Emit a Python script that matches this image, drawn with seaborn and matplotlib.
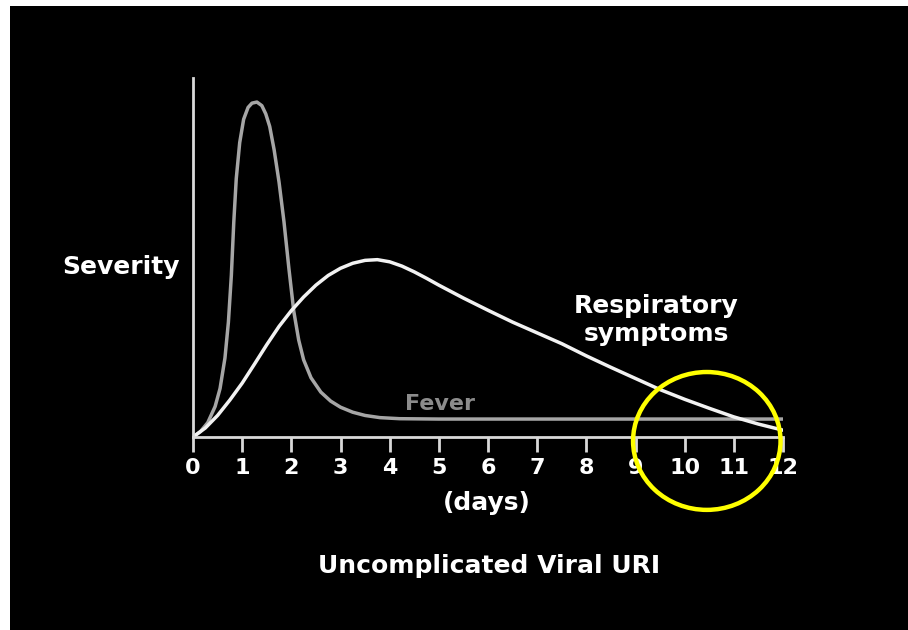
import numpy as np
import pandas as pd
import matplotlib
matplotlib.use("Agg")
import matplotlib.pyplot as plt
from matplotlib.patches import Rectangle, Ellipse
import seaborn as sns

# values (severity on a 0-100 scale)
fever_days = [0, 0.15, 0.3, 0.45, 0.55, 0.65, 0.72, 0.78, 0.83, 0.88, 0.95, 1.03, 1.12,
              1.2, 1.3, 1.4, 1.48, 1.56, 1.65, 1.75, 1.85, 1.95, 2.05, 2.15, 2.25, 2.4,
              2.6, 2.8, 3.0, 3.25, 3.5, 3.8, 4.2, 5.0, 12]
fever_sev = [0, 1.5, 4, 8.5, 13.5, 22, 32, 45, 60, 72, 82, 88.5, 91.8,
             93, 93.3, 92.3, 90, 86.5, 80, 71, 60, 47, 35, 27, 21.5, 16.5,
             12.5, 10, 8.3, 6.9, 6, 5.4, 5.1, 5.0, 5.0]

resp_days = [0, 0.25, 0.5, 0.75, 1.0, 1.25, 1.5, 1.75, 2.0, 2.25, 2.5, 2.75, 3.0,
             3.25, 3.5, 3.75, 4.0, 4.25, 4.5, 4.75, 5.0, 5.5, 6.0, 6.5, 7.0, 7.5,
             8.0, 8.5, 9.0, 9.5, 10.0, 10.5, 11.0, 11.5, 12]
resp_sev = [0, 2.5, 6, 10.3, 15, 20.3, 25.7, 30.8, 35.2, 39, 42.3, 45, 47,
            48.4, 49.2, 49.4, 48.8, 47.6, 46, 44.2, 42.3, 38.7, 35.3, 32, 29, 26,
            22.6, 19.4, 16.3, 13.2, 10.5, 8, 5.6, 3.6, 1.9]

day_ticks = list(range(0, 13))

sns.set_style("dark")
plt.rcParams['font.family'] = ['DejaVu Sans']
plt.rcParams['font.weight'] = 'bold'

fig = plt.figure(figsize=(9.08, 6.3), dpi=100, facecolor="white")
fig.patches.append(Rectangle((10 / 908, 0), 1, 1 - 6 / 630, transform=fig.transFigure,
                             facecolor="black", edgecolor="none", zorder=-10))

ax = fig.add_axes([193 / 908, 193 / 630, 590 / 908, 359 / 630])
ax.set_facecolor("none")

sns.lineplot(x=fever_days, y=fever_sev, ax=ax, color="#a6a6a6", linewidth=2.5)
sns.lineplot(x=resp_days, y=resp_sev, ax=ax, color="#f2f2f2", linewidth=2.5)

ax.set_xlim(0, 12)
ax.set_ylim(0, 100)
ax.set_xticks(day_ticks)
ax.set_xticklabels([str(d) for d in day_ticks], color="white", fontsize=16, fontweight="bold")
ax.set_yticks([])
ax.tick_params(axis="x", direction="out", length=11, width=2, color="#d9d9d9", pad=4, bottom=True)
ax.grid(False)
for side in ["top", "right"]:
    ax.spines[side].set_visible(False)
for side in ["left", "bottom"]:
    ax.spines[side].set_visible(True)
    ax.spines[side].set_color("#d9d9d9")
    ax.spines[side].set_linewidth(2)

ax.text(440, 630 - 404, "Fever", transform=None, color="#8c8c8c", fontsize=16, fontweight="bold",
        ha="center", va="center")
ax.text(656, 630 - 320, "Respiratory\nsymptoms", transform=None, color="white", fontsize=18,
        fontweight="bold", ha="center", va="center", linespacing=1.25)

fig.text(121 / 908, 1 - 267 / 630, "Severity", color="white", fontsize=18, fontweight="bold",
         ha="center", va="center")
fig.text(487 / 908, 1 - 503 / 630, "(days)", color="white", fontsize=18, fontweight="bold",
         ha="center", va="center")
fig.text(489 / 908, 1 - 566 / 630, "Uncomplicated Viral URI", color="white", fontsize=18,
         fontweight="bold", ha="center", va="center")

# yellow highlight ring around days 9.5-12
ax.add_patch(Ellipse((10.45, -1.1), 3.0, 38.4, fill=False, edgecolor="#ffff00",
                     linewidth=3.2, clip_on=False, zorder=5))

fig.savefig("out.png", dpi=100, facecolor=fig.get_facecolor())
